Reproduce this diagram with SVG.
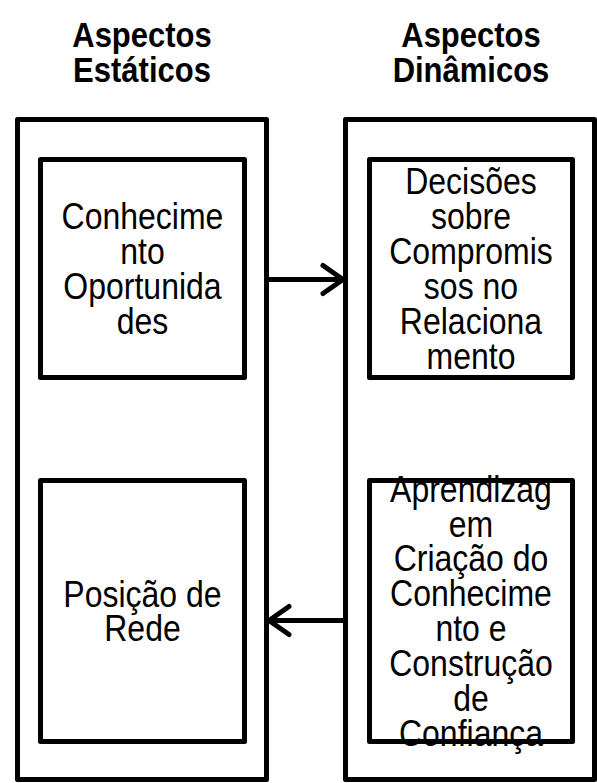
<svg xmlns="http://www.w3.org/2000/svg" width="597" height="783" viewBox="0 0 597 783">
<style>
.box{fill:none;stroke:#000;stroke-width:5;stroke-linejoin:round}
.hdr{font-family:"Liberation Sans",Arial,sans-serif;font-weight:bold;font-size:31px;text-anchor:middle;fill:#000}
.lbl{font-family:"Liberation Sans",Arial,sans-serif;font-size:32px;text-anchor:middle;fill:#000}
.con{fill:none;stroke:#000;stroke-width:5;stroke-linecap:round}
</style>
<defs>
<marker id="chev" markerUnits="userSpaceOnUse" viewBox="0 0 26 32" refX="23" refY="16" markerWidth="26" markerHeight="32" orient="auto" overflow="visible">
<path d="M3,2 L23,16 L3,30" fill="none" stroke="#000" stroke-width="5" stroke-linecap="round" stroke-linejoin="round"/>
</marker>
</defs>
<rect width="597" height="783" fill="#fff"/>
<g id="static-column">
<text class="hdr" transform="scale(1,1.15)" x="142" y="40.9">Aspectos<tspan x="142" dy="30.43">Estáticos</tspan></text>
<rect class="box" x="17.5" y="119.5" width="249" height="660"/>
</g>
<g id="dynamic-column">
<text class="hdr" transform="scale(1,1.15)" x="471" y="40.9">Aspectos<tspan x="471" dy="30.43">Dinâmicos</tspan></text>
<rect class="box" x="345.5" y="119.5" width="249" height="660"/>
</g>
<g id="conhecimento">
<rect class="box" x="40.5" y="159.5" width="204" height="218"/>
<text class="lbl" transform="scale(1,1.15)" x="142.5" y="199.1">Conhecime<tspan x="142.5" dy="30.43">nto</tspan><tspan x="142.5" dy="30.43">Oportunida</tspan><tspan x="142.5" dy="30.43">des</tspan></text>
</g>
<g id="decisoes">
<rect class="box" x="369.5" y="159.5" width="203" height="218"/>
<text class="lbl" transform="scale(1,1.15)" x="471" y="168.7">Decisões<tspan x="471" dy="30.43">sobre</tspan><tspan x="471" dy="30.43">Compromis</tspan><tspan x="471" dy="30.43">sos no</tspan><tspan x="471" dy="30.43">Relaciona</tspan><tspan x="471" dy="30.43">mento</tspan></text>
</g>
<g id="posicao">
<rect class="box" x="40.5" y="480.5" width="204" height="261"/>
<text class="lbl" transform="scale(1,1.15)" x="142.5" y="527.4">Posição de<tspan x="142.5" dy="30.43">Rede</tspan></text>
</g>
<g id="aprendizagem">
<rect class="box" x="369.5" y="480.5" width="203" height="261"/>
<text class="lbl" transform="scale(1,1.15)" x="471" y="436.1">Aprendizag<tspan x="471" dy="30.43">em</tspan><tspan x="471" dy="30.43">Criação do</tspan><tspan x="471" dy="30.43">Conhecime</tspan><tspan x="471" dy="30.43">nto e</tspan><tspan x="471" dy="30.43">Construção</tspan><tspan x="471" dy="30.43">de</tspan><tspan x="471" dy="30.43">Confiança</tspan></text>
</g>
<g id="connectors">
<path class="con" d="M267,279.5 L343,279.5" marker-end="url(#chev)"/>
<path class="con" d="M345,620.5 L269,620.5" marker-end="url(#chev)"/>
</g>
</svg>
